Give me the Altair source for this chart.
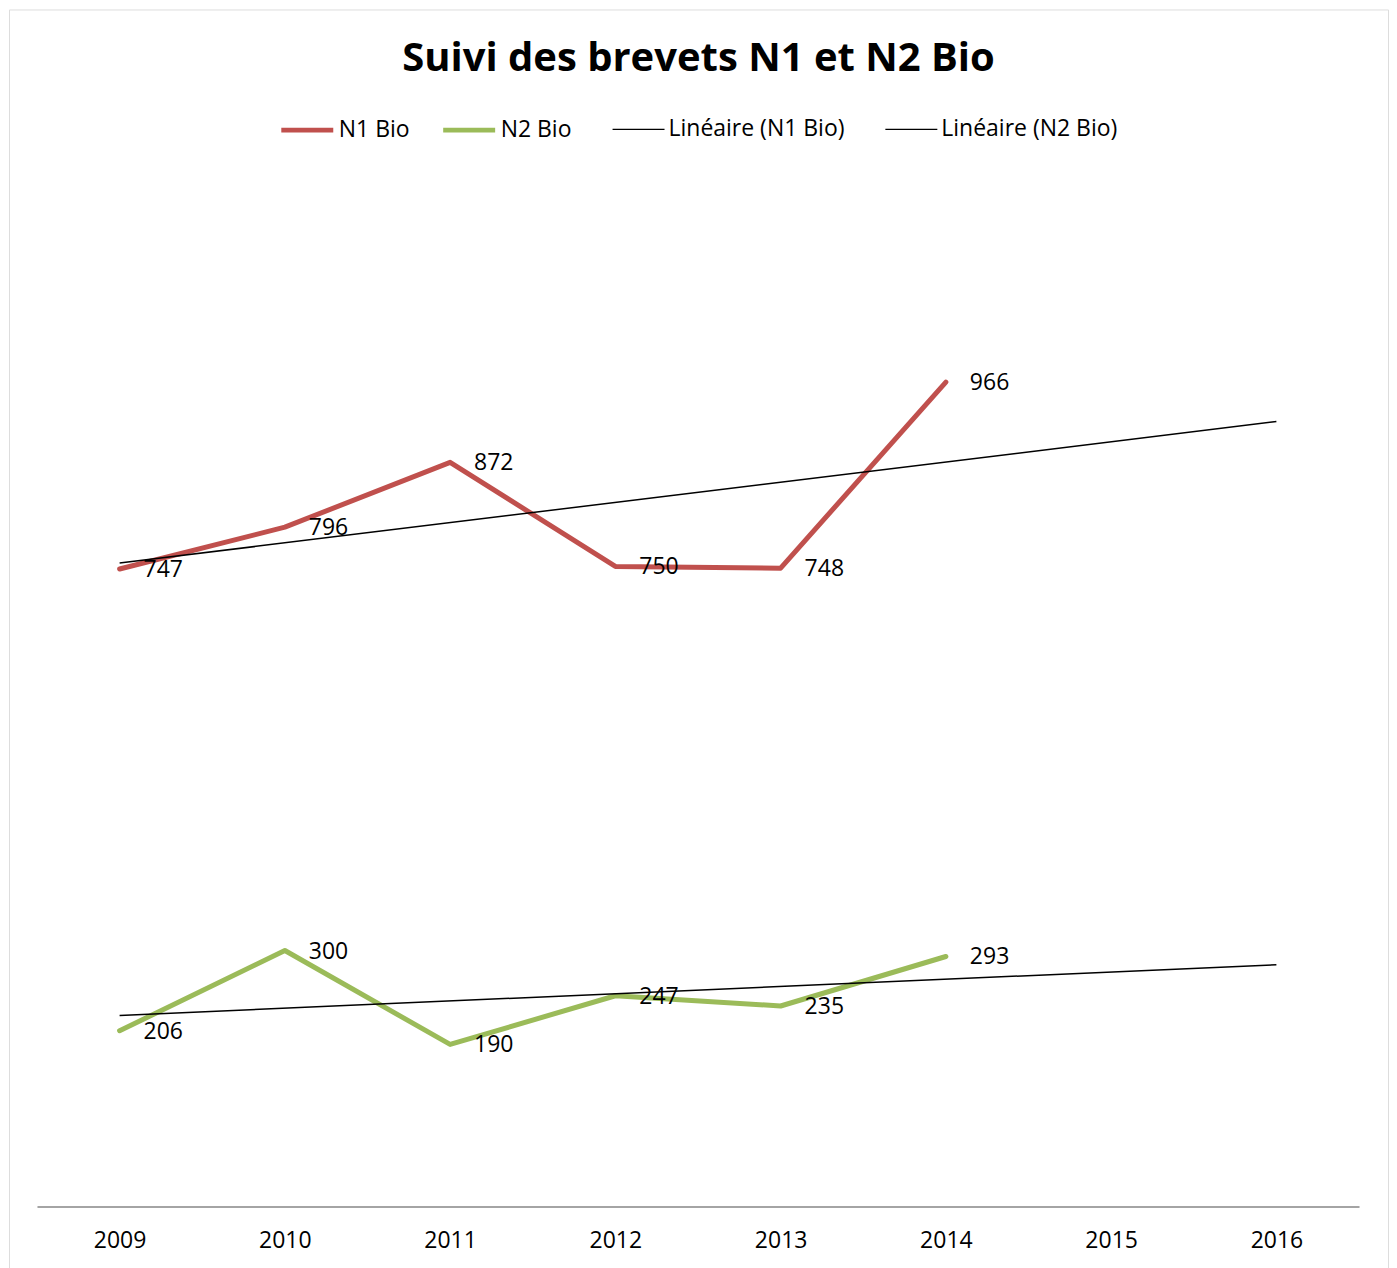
import altair as alt
import pandas as pd

years = [2009, 2010, 2011, 2012, 2013, 2014]
n1_bio = [747, 796, 872, 750, 748, 966]
n2_bio = [206, 300, 190, 247, 235, 293]
axis_years = [2009, 2010, 2011, 2012, 2013, 2014, 2015, 2016]
data_names = ["N1 Bio", "N2 Bio"]
data_colors = ["#C0504D", "#9BBB59"]
trend_names = ["Linéaire (N1 Bio)", "Linéaire (N2 Bio)"]
trend_colors = ["#000000", "#000000"]

rows = []
for y, v in zip(years, n1_bio):
    rows.append({"year": y, "value": v, "series": "N1 Bio"})
for y, v in zip(years, n2_bio):
    rows.append({"year": y, "value": v, "series": "N2 Bio"})
df = pd.DataFrame(rows)

FONT = "Open Sans"
W, H = 1380, 1275

x_scale = alt.Scale(domain=[2008.5, 2016.5], range=[28, 1351], nice=False, zero=False)
y_scale = alt.Scale(domain=[0, 1200], range=[1198, 173], nice=False)


def make_legend(x, y, stroke_w, pad):
    return alt.Legend(
        title=None, orient="none", legendX=x, legendY=y, direction="horizontal",
        symbolType="stroke", symbolSize=2704, symbolStrokeWidth=stroke_w,
        labelFont=FONT, labelFontSize=23, labelColor="#000000", labelOffset=3,
        columnPadding=pad, labelLimit=0,
    )


x_enc = alt.X("year:Q", scale=x_scale,
              axis=alt.Axis(title=None, values=axis_years, format="d", ticks=False, tickSize=0,
                            grid=False, labelFont=FONT, labelFontSize=23, labelColor="#000000",
                            labelPadding=23, domainColor="#868686", domainWidth=1.5,
                            offset=-(H - 1198), labelFlush=False, labelOverlap=False))
y_enc = alt.Y("value:Q", scale=y_scale, axis=None)

base = alt.Chart(df)

lines = base.mark_line(strokeCap="round", strokeJoin="round", strokeWidth=5).encode(
    x=x_enc, y=y_enc,
    color=alt.Color("series:N", scale=alt.Scale(domain=data_names, range=data_colors),
                    legend=make_legend(270, 92, 5, 23)),
)

trend = base.transform_regression(
    "year", "value", groupby=["series"], extent=[2009, 2016], method="linear"
).transform_calculate(
    trend="'Linéaire (' + datum.series + ')'"
).mark_line(strokeWidth=1.5).encode(
    x=x_enc, y=y_enc,
    stroke=alt.Stroke("trend:N", scale=alt.Scale(domain=trend_names, range=trend_colors),
                      legend=make_legend(603, 93, 1.5, 37)),
)

labels = base.mark_text(align="left", baseline="middle", dx=24, dy=1, font=FONT,
                        fontSize=23, color="#000000").encode(
    x=x_enc, y=y_enc, text=alt.Text("value:Q")
)

chart = alt.layer(lines, trend, labels).properties(
    width=W, height=H,
    autosize=alt.AutoSizeParams(type="none"),
    padding={"left": 1, "top": 1, "right": 1, "bottom": 1},
    title=alt.TitleParams(text="Suivi des brevets N1 et N2 Bio", font=FONT, fontSize=40,
                          fontWeight="bold", color="#000000", anchor="middle", frame="group",
                          baseline="middle", offset=-90),
).configure_view(stroke="#878787", strokeWidth=2).configure(background="white")

chart.save("out.html", embed_options={"renderer": "svg", "actions": False})
